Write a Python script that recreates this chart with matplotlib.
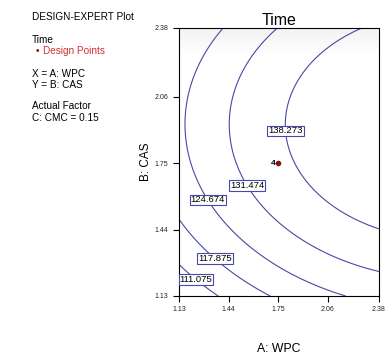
import numpy as np
import matplotlib
matplotlib.use("Agg")
import matplotlib.pyplot as plt

plt.rcParams['font.family'] = ['Liberation Sans', 'DejaVu Sans']

# fitted quadratic model for Time, coded units (-1..1)
# intercept, A, B, A^2, B^2, AB
coef = [136.581, 10.816, 6.573, -3.214, -11.468, -0.099]
levels = [111.075, 117.875, 124.674, 131.474, 138.273]
ticks = [1.13, 1.44, 1.75, 2.06, 2.38]
design_x = [1.75]
design_y = [1.75]
design_n = ['4']

xlo, xhi = 1.13, 2.38

fig = plt.figure(figsize=(3.86, 3.56), dpi=100)
ax = fig.add_axes([179/386, 60/356, 200/386, 268/356])

gx = np.linspace(xlo, xhi, 200)
GX, GY = np.meshgrid(gx, gx)
A = (GX - 1.75) / 0.625
B = (GY - 1.75) / 0.625
Z = coef[0] + coef[1]*A + coef[2]*B + coef[3]*A*A + coef[4]*B*B + coef[5]*A*B

# light grey shading near top edge of plot
shade = np.linspace(0, 1, 100)
shade = np.clip(1 - shade / 0.1, 0, 1)[:, None] * 0.1
ax.imshow(shade, extent=[xlo, xhi, xlo, xhi], origin='upper', cmap='Greys',
          vmin=0, vmax=1, aspect='auto', zorder=0)

cs = ax.contour(GX, GY, Z, levels=levels, colors='#4848a8', linewidths=0.8)
lab_pos = [(1.255, 1.225), (1.369, 1.316), (1.319, 1.582), (1.569, 1.652), (1.80, 1.90)]
lbls = ax.clabel(cs, fmt='%.3f', inline=False, manual=lab_pos, fontsize=6.8, colors='black')
for t in lbls:
    t.set_rotation(0)
    t.set_bbox(dict(boxstyle='square,pad=0.1', fc='white', ec='#4848a8', lw=0.8))
    t.set_zorder(5)

ax.plot(design_x, design_y, 'o', color='#8b1010', ms=3, zorder=6)
for x, y, n in zip(design_x, design_y, design_n):
    ax.text(x - 0.015, y, n, ha='right', va='center', fontsize=6, fontweight='bold', zorder=6)

ax.set_xlim(xlo, xhi)
ax.set_ylim(xlo, xhi)
ax.set_xticks(ticks)
ax.set_yticks(ticks)
ax.set_xticklabels(['%.2f' % v for v in ticks])
ax.set_yticklabels(['%.2f' % v for v in ticks])
ax.tick_params(labelsize=5, length=4, width=0.8, direction='out', pad=3.5, labelcolor='#222222')
ax.set_title('Time', fontsize=11.5, pad=2)
ax.set_xlabel('A: WPC', fontsize=8.8)
ax.set_ylabel('B: CAS', fontsize=8.5)
ax.xaxis.set_label_coords(0.5, -0.175)
ax.yaxis.set_label_coords(-0.135, 0.5)

fs = 7.2
fig.text(0.083, 0.952, 'DESIGN-EXPERT Plot', fontsize=fs, va='center')
fig.text(0.083, 0.888, 'Time', fontsize=fs, va='center')
fig.text(0.092, 0.857, '\u2022', fontsize=fs, va='center', color='#8b1010')
fig.text(0.112, 0.857, 'Design Points', fontsize=fs, va='center', color='#d03030')
fig.text(0.083, 0.792, 'X = A: WPC', fontsize=fs, va='center')
fig.text(0.083, 0.761, 'Y = B: CAS', fontsize=fs, va='center')
fig.text(0.083, 0.702, 'Actual Factor', fontsize=fs, va='center')
fig.text(0.083, 0.669, 'C: CMC = 0.15', fontsize=fs, va='center')

fig.savefig('out.png', dpi=100)
